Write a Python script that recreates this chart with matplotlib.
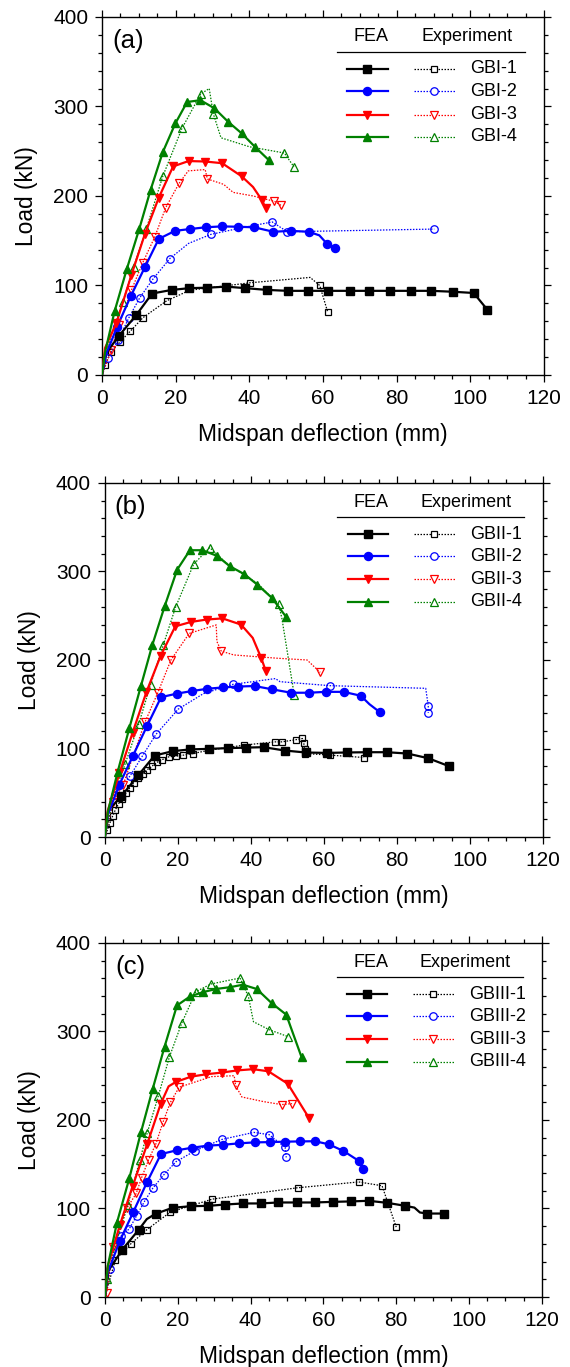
import matplotlib
matplotlib.use("Agg")
import matplotlib.pyplot as plt
from matplotlib.ticker import MultipleLocator

plt.rcParams['font.family'] = ['Liberation Sans', 'DejaVu Sans']

# ---- panel (a): GBI beams, (deflection mm, load kN) ----
gbi1_fea = [(0, 0), (1.2, 25), (4.6, 43.7), (9.3, 67), (13.6, 91), (18.9, 95), (23.7, 97),
            (28.6, 97.5), (33.7, 98.7), (38.9, 97), (44.9, 95), (50.4, 94), (56, 94),
            (61.4, 94), (67.2, 94), (72.6, 94), (78.2, 94), (83.8, 94), (89.4, 94),
            (95.2, 93), (100.9, 91.6), (104.6, 73)]
gbi1_exp = [(0, 0), (0.8, 11), (2.5, 26), (4.9, 37), (7.7, 49), (11.1, 64), (17.6, 83),
            (23.8, 94.6), (28.4, 97), (40.2, 103), (56.5, 109), (59.1, 100), (61.3, 70)]
gbi1_exp_marks = [1, 2, 3, 4, 5, 6, 9, 11, 12]

gbi2_fea = [(0, 0), (1, 22), (4.1, 54), (7.8, 88), (11.7, 121), (15.4, 152), (19.8, 161),
            (23.8, 163), (28.1, 165), (32.5, 166), (36.9, 165.6), (41.3, 165), (46.5, 160),
            (51.3, 161), (56.1, 160), (59, 156), (61.1, 146.5), (63.3, 142)]
gbi2_fea_marks = [2, 3, 4, 5, 6, 7, 8, 9, 10, 11, 12, 13, 14, 16, 17]
gbi2_exp = [(0, 0), (1.6, 19), (4.4, 39), (7.3, 64), (10.2, 86), (13.8, 107), (18.4, 130),
            (23.5, 147), (29.5, 157), (37.4, 164), (46.2, 171), (50.3, 160), (90.2, 163)]
gbi2_exp_marks = [1, 2, 3, 4, 5, 6, 8, 10, 11, 12]

gbi3_fea = [(0, 0), (0.8, 30), (3.9, 58), (8, 112), (11.6, 157), (15.4, 198), (19.3, 233),
            (23.5, 239), (28, 238.5), (32.6, 236.6), (37.9, 222), (41, 210), (43.3, 196),
            (44.4, 187)]
gbi3_fea_marks = [2, 3, 4, 5, 6, 7, 8, 9, 10, 12, 13]
gbi3_exp = [(0, 0), (0.5, 5), (2.5, 28), (4.6, 56), (8, 95), (11, 125), (14.3, 154),
            (17.3, 187), (20.9, 214), (23.4, 228), (28, 229.5), (28.6, 219), (33, 213),
            (35.6, 204), (41, 200), (46.8, 194), (48.6, 189.5)]
gbi3_exp_marks = [2, 3, 4, 5, 6, 7, 8, 11, 15, 16]

gbi4_fea = [(0, 0), (0.8, 25), (3.4, 71), (6.7, 118), (10.1, 163), (13.2, 207), (16.5, 249),
            (19.9, 281), (23.1, 305), (26.7, 307), (30.5, 298), (34.2, 283), (37.9, 270),
            (41.5, 255), (45.3, 240)]
gbi4_exp = [(0, 0), (2.5, 45), (5.7, 82), (8.6, 121), (12, 163), (16.5, 222), (21.7, 275.5),
            (26.8, 314), (29.1, 320), (30.2, 292), (32.3, 265), (40, 255), (49.5, 248),
            (52.1, 232.5)]
gbi4_exp_marks = [2, 3, 4, 5, 6, 7, 9, 12, 13]

# ---- panel (b): GBII beams ----
gbii1_fea = [(0, 0), (0.9, 30), (4.5, 46), (9.2, 70), (13.6, 92), (18.6, 97), (23.4, 99),
             (28.5, 99.6), (33.6, 100.4), (38.6, 101), (43.5, 101.5), (49.3, 97.7), (55, 95.5),
             (60.8, 95), (66.3, 95.5), (71.8, 95.8), (77.3, 95.8), (82.9, 94.3), (88.6, 89),
             (94.3, 80)]
gbii1_exp = [(0, 0), (0.64, 7.5), (1.37, 15.8), (2.1, 23.4), (2.9, 31), (3.75, 37.7),
             (4.76, 43.4), (5.77, 49.8), (6.87, 55.8), (7.97, 61.5), (9.16, 67.2),
             (10.35, 71.7), (11.63, 76.2), (12.9, 80), (14.2, 84.2), (15.75, 87.5),
             (17.5, 90.6), (19.5, 91.3), (21.5, 92.5), (24.1, 94.3), (28.5, 98), (38, 103.8),
             (46.7, 107.5), (48.5, 107.5), (52.4, 110), (54.1, 111.3), (54.5, 105.7),
             (54.7, 100), (54.9, 94.3), (61.8, 92.5), (71, 89.8)]
gbii1_exp_marks = [i for i in range(1, 31) if i != 20]

gbii2_fea = [(0, 0), (0.8, 25), (3.9, 58.5), (7.6, 91), (11.5, 125), (15.4, 158), (19.7, 162),
             (24, 165), (28.1, 167.5), (32.3, 169), (36.6, 170), (41, 170.6), (45.9, 166.8),
             (51, 163), (55.9, 163), (60.5, 164), (65.4, 164), (70.1, 159.6), (72.5, 150),
             (75.4, 140.8)]
gbii2_fea_marks = [i for i in range(2, 20) if i != 18]
gbii2_exp = [(0, 0), (2.7, 48), (6.9, 69), (10.3, 91.7), (14, 116), (20.1, 144.5), (27, 162),
             (35.1, 172.5), (46.7, 179), (48, 175.5), (61.6, 171), (87.9, 168), (88.6, 148),
             (88.6, 140.4)]
gbii2_exp_marks = [1, 2, 3, 4, 5, 7, 10, 12, 13]

gbii3_fea = [(0, 0), (0.8, 30), (4, 72), (7.6, 118), (11.4, 164), (15.3, 205), (19.3, 238),
             (23.6, 243), (27.9, 245.7), (32.2, 247), (37.3, 240), (40.5, 225), (42.8, 202.6),
             (44.1, 187.5)]
gbii3_fea_marks = [2, 3, 4, 5, 6, 7, 8, 9, 10, 12, 13]
gbii3_exp = [(0, 0), (2.3, 40), (5, 59), (11, 130), (14.5, 163), (18.1, 200), (23.1, 230),
             (30.5, 239.6), (30.7, 220.8), (31.9, 210), (35.3, 205.7), (47.2, 202),
             (55.4, 200), (59, 186)]
gbii3_exp_marks = [1, 2, 3, 4, 5, 6, 9, 13]

gbii4_fea = [(0, 0), (0.8, 28), (3.5, 73.6), (6.7, 123), (9.9, 171), (13, 217), (16.4, 261),
             (19.8, 302), (23.3, 324), (26.7, 324), (30.7, 317.7), (34.3, 305.7), (38.2, 297),
             (41.8, 285), (45.8, 270), (49.6, 249)]
gbii4_exp = [(0, 0), (2.7, 50), (5.5, 82), (9.3, 128), (12.5, 172), (16, 217), (19.4, 260),
             (24.3, 308), (28.7, 327), (34, 307), (42, 286), (47.6, 263), (48.5, 247),
             (51.9, 160)]
gbii4_exp_marks = [2, 3, 4, 5, 6, 7, 8, 11, 13]

# ---- panel (c): GBIII beams ----
gbiii1_fea = [(0, 0), (1, 30), (4.8, 53.6), (9.3, 76), (11.5, 88), (13.9, 94), (18.6, 100.8),
              (23.6, 102.6), (28.4, 103), (33.1, 104.5), (37.9, 105.7), (42.8, 105.7),
              (47.5, 106.8), (52.7, 106.8), (57.6, 106.8), (62.6, 107.5), (67.6, 108),
              (72.4, 108.7), (77.5, 106.4), (82.5, 103), (85, 101), (86.5, 95.5), (88.5, 94.3),
              (93, 94.3)]
gbiii1_fea_marks = [i for i in range(2, 24) if i not in (4, 20, 21)]
gbiii1_exp = [(0, 0), (1, 15), (2.9, 42), (7.1, 60), (11.5, 76), (18, 96), (29.5, 110.6),
              (52.9, 123.4), (69.7, 130), (76.1, 125.7), (80, 79)]
gbiii1_exp_marks = [2, 3, 4, 5, 6, 7, 8, 9, 10]

gbiii2_fea = [(0, 0), (0.8, 28), (4.1, 63.4), (7.8, 96), (11.6, 130), (15.4, 161.5),
              (19.7, 165.7), (24, 168.7), (28.2, 171), (32.5, 172), (36.8, 173.6), (41.1, 174.7),
              (45.3, 175), (49.5, 175.5), (53.6, 175.8), (57.7, 176), (61.5, 172.5), (65.5, 165),
              (69.8, 153.6), (70.9, 145)]
gbiii2_exp = [(0, 0), (1.4, 32), (4.4, 68.7), (6.7, 77), (8.7, 91.7), (10.8, 107.5),
              (13.1, 122.6), (16.1, 137.7), (19.5, 152.8), (24.8, 165.3), (32.1, 178),
              (40.9, 186), (45.1, 183.4), (49.5, 169), (49.8, 157.7)]

gbiii3_fea = [(0, 0), (0.8, 35), (4.1, 81), (7.6, 125), (11.6, 172.5), (15.3, 218), (17.5, 238),
              (19.5, 243), (23.7, 249), (27.9, 251.7), (32.2, 253.6), (36.3, 256), (40.7, 257.4),
              (44.9, 255), (50.2, 241), (56, 202.6)]
gbiii3_fea_marks = [i for i in range(2, 16) if i != 6]
gbiii3_exp = [(0, 0), (0.5, 5), (2.3, 56.6), (6, 100), (8.6, 117), (10.1, 135), (12, 155),
              (14, 173), (16, 198), (18, 220), (20.4, 237), (29.3, 249), (35.5, 250),
              (35.9, 239), (37.6, 226), (43.5, 220.8), (48.5, 217.4), (51.4, 218.5)]
gbiii3_exp_marks = [1, 2, 3, 4, 5, 6, 7, 8, 9, 10, 13, 16, 17]

gbiii4_fea = [(0, 0), (0.8, 35), (3.3, 83.8), (6.7, 134), (9.9, 186), (13.1, 234.7),
              (16.4, 283), (19.8, 329.4), (23.4, 339.6), (27, 344.5), (30.5, 348), (34.3, 350),
              (37.9, 352.8), (41.7, 348), (45.8, 332), (49.8, 319), (54, 271)]
gbiii4_exp = [(0, 0), (0.5, 20), (3, 60), (6.3, 103.8), (9.6, 154.7), (11.6, 185),
              (14.7, 227.5), (17.7, 271), (21.1, 309.4), (25, 345), (29.1, 353.6),
              (37.1, 360.4), (39.4, 339.6), (40.8, 311), (45.1, 302), (50.4, 294)]
gbiii4_exp_marks = [1, 3, 4, 5, 6, 7, 8, 9, 10, 11, 12, 14, 15]

colors = ['black', '#0000ff', '#ff0000', '#008000']
markers = ['s', 'o', 'v', '^']
fea_size = [5.2, 5.8, 6.4, 6.4]
exp_size = [5.0, 5.4, 5.8, 5.8]
dotted = (0, (1.2, 1.2))


def draw_fea(ax, pts, k, marks=None):
    xs = [p[0] for p in pts]
    ys = [p[1] for p in pts]
    if marks is None:
        marks = list(range(2, len(pts)))
    ax.plot(xs, ys, '-', color=colors[k], lw=1.6, marker=markers[k], ms=fea_size[k],
            markevery=marks, zorder=3)


def draw_exp(ax, pts, k, marks=None):
    xs = [p[0] for p in pts]
    ys = [p[1] for p in pts]
    if marks is None:
        marks = list(range(1, len(pts)))
    ax.plot(xs, ys, color=colors[k], lw=0.9, ls=dotted, marker=markers[k],
            ms=exp_size[k], mfc='none', mew=0.9, markevery=marks, zorder=2)


def draw_legend(ax, names):
    ax.text(73, 378, 'FEA', ha='center', va='center', fontsize=13)
    ax.text(99, 378, 'Experiment', ha='center', va='center', fontsize=13)
    ax.plot([63.7, 114.8], [361, 361], color='black', lw=0.9)
    rows = [342, 317, 291, 266]
    for k, name in enumerate(names):
        y = rows[k]
        ax.plot([66.5, 77.6], [y, y], '-', color=colors[k], lw=1.6)
        ax.plot([72], [y], marker=markers[k], color=colors[k], ms=fea_size[k])
        ax.plot([84.6, 95.9], [y, y], color=colors[k], lw=0.9, ls=dotted)
        ax.plot([90.2], [y], marker=markers[k], color=colors[k], ms=exp_size[k],
                mfc='white', mew=0.9)
        ax.text(100, y, name, ha='left', va='center', fontsize=13)


def setup_axes(ax, letter):
    ax.set_xlim(0, 120)
    ax.set_ylim(0, 400)
    ax.xaxis.set_major_locator(MultipleLocator(20))
    ax.xaxis.set_minor_locator(MultipleLocator(5))
    ax.yaxis.set_major_locator(MultipleLocator(100))
    ax.yaxis.set_minor_locator(MultipleLocator(20))
    ax.tick_params(which='both', direction='out', top=True, right=True, width=0.9)
    ax.tick_params(which='major', length=5, labelsize=15, pad=5)
    ax.tick_params(which='minor', length=3)
    for s in ax.spines.values():
        s.set_linewidth(1.0)
    ax.set_xlabel('Midspan deflection (mm)', fontsize=16.4, labelpad=11)
    ax.set_ylabel('Load (kN)', fontsize=16.4, labelpad=11)
    ax.text(7, 373, letter, ha='center', va='center', fontsize=18.5)


fig = plt.figure(figsize=(5.7, 13.67), dpi=100)
ax_a = fig.add_axes([0.179, 0.7257, 0.7754, 0.2619])
ax_b = fig.add_axes([0.184, 0.3877, 0.7684, 0.2590])
ax_c = fig.add_axes([0.184, 0.0512, 0.7667, 0.2590])

# panel (a)
draw_fea(ax_a, gbi1_fea, 0)
draw_exp(ax_a, gbi1_exp, 0, gbi1_exp_marks)
draw_fea(ax_a, gbi2_fea, 1, gbi2_fea_marks)
draw_exp(ax_a, gbi2_exp, 1, gbi2_exp_marks)
draw_fea(ax_a, gbi3_fea, 2, gbi3_fea_marks)
draw_exp(ax_a, gbi3_exp, 2, gbi3_exp_marks)
draw_fea(ax_a, gbi4_fea, 3)
draw_exp(ax_a, gbi4_exp, 3, gbi4_exp_marks)
setup_axes(ax_a, '(a)')
draw_legend(ax_a, ['GBI-1', 'GBI-2', 'GBI-3', 'GBI-4'])

# panel (b)
draw_fea(ax_b, gbii1_fea, 0)
draw_exp(ax_b, gbii1_exp, 0, gbii1_exp_marks)
draw_fea(ax_b, gbii2_fea, 1, gbii2_fea_marks)
draw_exp(ax_b, gbii2_exp, 1, gbii2_exp_marks)
draw_fea(ax_b, gbii3_fea, 2, gbii3_fea_marks)
draw_exp(ax_b, gbii3_exp, 2, gbii3_exp_marks)
draw_fea(ax_b, gbii4_fea, 3)
draw_exp(ax_b, gbii4_exp, 3, gbii4_exp_marks)
setup_axes(ax_b, '(b)')
draw_legend(ax_b, ['GBII-1', 'GBII-2', 'GBII-3', 'GBII-4'])

# panel (c)
draw_fea(ax_c, gbiii1_fea, 0, gbiii1_fea_marks)
draw_exp(ax_c, gbiii1_exp, 0, gbiii1_exp_marks)
draw_fea(ax_c, gbiii2_fea, 1)
draw_exp(ax_c, gbiii2_exp, 1)
draw_fea(ax_c, gbiii3_fea, 2, gbiii3_fea_marks)
draw_exp(ax_c, gbiii3_exp, 2, gbiii3_exp_marks)
draw_fea(ax_c, gbiii4_fea, 3)
draw_exp(ax_c, gbiii4_exp, 3, gbiii4_exp_marks)
setup_axes(ax_c, '(c)')
draw_legend(ax_c, ['GBIII-1', 'GBIII-2', 'GBIII-3', 'GBIII-4'])

fig.savefig('out.png', dpi=100)
